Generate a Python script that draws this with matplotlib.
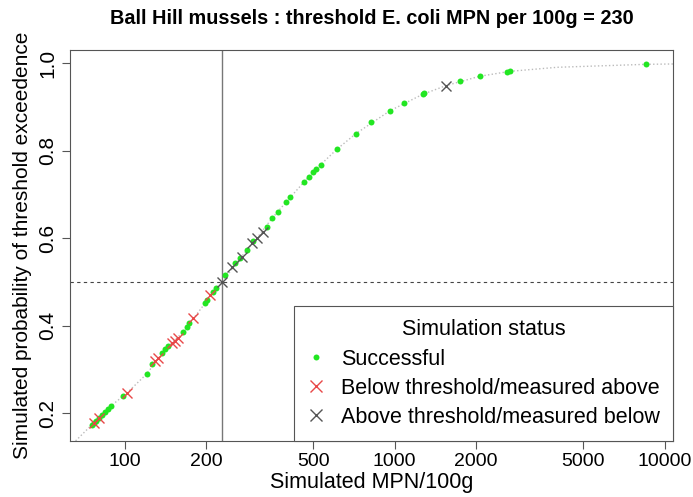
import matplotlib.pyplot as plt
from matplotlib.lines import Line2D

plt.rcParams['font.family'] = ['Liberation Sans', 'DejaVu Sans']

threshold = 230

# successful simulations
ok_mpn = [75.8, 77.1, 78.4, 80.4, 82.5, 84.7, 86.9, 89.1, 99.0, 120.8, 126.4,
          137.3, 141.3, 144.9, 165.1, 170.0, 173.8, 198.7, 202.6, 213.2, 218.2,
          235.6, 256.7, 267.8, 283.5, 299.9, 336.3, 351.0, 371.2, 396.4, 410.2,
          460.3, 482.3, 500.4, 510.7, 533.0, 609.8, 719.0, 818.4, 962.3, 1079.7,
          1272, 1289.6, 1752, 2064, 2610, 2677, 8540]
ok_prob = [0.1735, 0.178, 0.1826, 0.1895, 0.1963, 0.2032, 0.210, 0.2169, 0.2397,
           0.290, 0.3128, 0.3372, 0.3463, 0.3539, 0.3865, 0.3966, 0.4057, 0.4514,
           0.4589, 0.4779, 0.4863, 0.516, 0.5427, 0.5541, 0.573, 0.5943, 0.6263,
           0.6454, 0.6605, 0.6833, 0.6934, 0.729, 0.7404, 0.7518, 0.7573, 0.7676,
           0.803, 0.8395, 0.866, 0.8916, 0.9094, 0.9292, 0.9322, 0.9594, 0.9703,
           0.9801, 0.9817, 0.9977]

# simulated below threshold, measured above
below_mpn = [76.8, 80.5, 101.9, 129.7, 133.4, 149.5, 153.8, 158.2, 178.9, 207.3]
below_prob = [0.177, 0.190, 0.2459, 0.3203, 0.3258, 0.360, 0.366, 0.3715,
              0.4171, 0.4703]

# simulated above threshold, measured below
above_mpn = [229, 249.5, 271.7, 295.9, 308.7, 326.7, 1551]
above_prob = [0.500, 0.535, 0.5578, 0.5897, 0.5998, 0.6148, 0.949]

# fitted exceedence curve
curve_mpn = [63, 75.6, 89.1, 101.9, 120.8, 141.3, 165.1, 198.7, 230, 267.8,
             308.7, 351, 410, 500, 610, 720, 962, 1272, 1551, 2064, 2677, 4000,
             8540, 10740]
curve_prob = [0.125, 0.1735, 0.217, 0.246, 0.290, 0.346, 0.3865, 0.4514, 0.50,
              0.554, 0.600, 0.645, 0.693, 0.752, 0.803, 0.8395, 0.8916, 0.9292,
              0.949, 0.9703, 0.9817, 0.9909, 0.9977, 0.9985]

xticks = [100, 200, 500, 1000, 2000, 5000, 10000]
yticks = [0.2, 0.4, 0.6, 0.8, 1.0]

green = '#22e622'
red = '#e84848'
grey = '#555555'

fig = plt.figure(figsize=(6.93, 4.97), dpi=100)
ax = fig.add_axes([0.101, 0.113, 0.870, 0.786])

ax.plot(curve_mpn, curve_prob, ls=':', color='#bbbbbb', lw=1, zorder=1)
ax.axvline(threshold, color='#777777', lw=1, zorder=1)
ax.axhline(0.5, color='#444444', lw=0.8, ls=(0, (3, 3)), zorder=1)

ax.plot(ok_mpn, ok_prob, 'o', color=green, ms=4.3, mec='none', zorder=3)
ax.plot(below_mpn, below_prob, 'x', color=red, ms=7.5, mew=1, zorder=4)
ax.plot(above_mpn, above_prob, 'x', color=grey, ms=7.5, mew=1, zorder=4)

ax.set_xscale('log')
ax.set_xlim(62.8, 10740)
ax.set_ylim(0.137, 1.030)
ax.set_xticks(xticks)
ax.set_xticklabels([str(t) for t in xticks])
ax.minorticks_off()
ax.set_yticks(yticks)
ax.set_yticklabels([str(t) for t in yticks], rotation=90, va='center')
ax.tick_params(length=6, color='#555555', pad=3)
ax.tick_params(axis='x', labelsize=14)
ax.tick_params(axis='y', labelsize=15)

for s in ax.spines.values():
    s.set_color('#555555')

ax.set_xlabel('Simulated MPN/100g', fontsize=15.5, labelpad=1)
ax.set_ylabel('Simulated probability of threshold exceedence', fontsize=15, labelpad=5)
fig.text(0.536, 0.962, 'Ball Hill mussels : threshold E. coli MPN per 100g = 230',
         ha='center', va='center', fontsize=14.3, fontweight='bold')

handles = [Line2D([], [], ls='none', marker='o', color=green, ms=4.3, mec='none'),
           Line2D([], [], ls='none', marker='x', color=red, ms=8, mew=1),
           Line2D([], [], ls='none', marker='x', color=grey, ms=8, mew=1)]
labels = ['Successful', 'Below threshold/measured above',
          'Above threshold/measured below']
leg = ax.legend(handles, labels, title='Simulation status', loc='lower right',
                borderaxespad=0, fontsize=15.5, title_fontsize=15.5, fancybox=False,
                framealpha=1, edgecolor='#555555', handlelength=0.9,
                handletextpad=0.7, borderpad=0.6, labelspacing=0.38)
leg.get_frame().set_linewidth(0.8)

fig.savefig('out.png', dpi=100)
